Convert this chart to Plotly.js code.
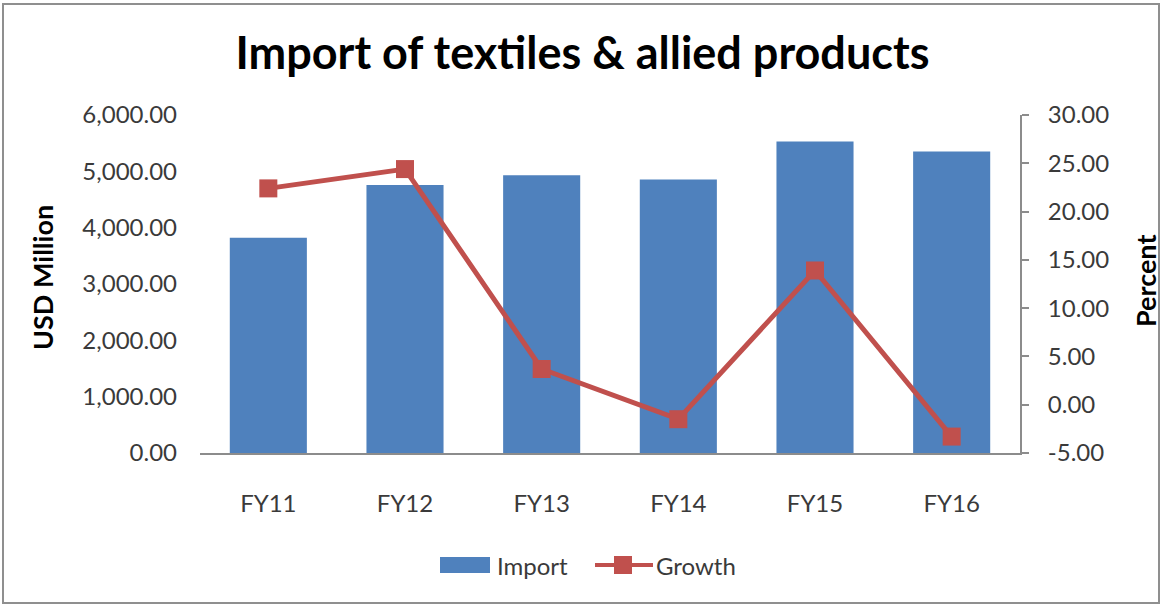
<!DOCTYPE html>
<html>
<head>
<meta charset="utf-8">
<script src="https://cdn.plot.ly/plotly-3.0.1.min.js"></script>
<style>
  html, body { margin: 0; padding: 0; background: #ffffff; }
  #chart { position: absolute; left: 0; top: 0; width: 1165px; height: 607px; }
  #frame {
    position: absolute; left: 2px; top: 3px; width: 1158px; height: 601px;
    box-sizing: border-box; border: 2px solid #8f8f8f; pointer-events: none;
  }
</style>
</head>
<body>
<div id="chart"></div>
<div id="frame"></div>
<script>
// Fiscal years and values
const years = ['FY11', 'FY12', 'FY13', 'FY14', 'FY15', 'FY16'];
const importValues = [3822, 4756, 4930, 4855, 5530, 5350];   // USD million
const growthValues = [22.4, 24.4, 3.7, -1.5, 13.9, -3.3];     // percent

// Axis tick values and labels
const importTicks = [0, 1000, 2000, 3000, 4000, 5000, 6000];
const importTickText = ['0.00', '1,000.00', '2,000.00', '3,000.00', '4,000.00', '5,000.00', '6,000.00'];
const growthTicks = [-5, 0, 5, 10, 15, 20, 25, 30];
const growthTickText = ['-5.00', '0.00', '5.00', '10.00', '15.00', '20.00', '25.00', '30.00'];

const BLUE = '#4f81bd';
const RED = '#c0504d';
const FONT = 'Lato, "Open Sans", sans-serif';
const TICK_COLOR = '#3a3a3a';

// plot area in pixels
const W = 1165, H = 607;
const M = { l: 200, r: 145, t: 115, b: 154 };
const plotW = W - M.l - M.r, plotH = H - M.t - M.b;
const px = x => (x - M.l) / plotW;
const py = y => (H - M.b - y) / plotH;

const traces = [
  {
    type: 'bar', name: 'Import', x: years, y: importValues,
    marker: { color: BLUE }, yaxis: 'y', hoverinfo: 'x+y'
  },
  {
    type: 'scatter', mode: 'lines+markers', name: 'Growth', x: years, y: growthValues,
    yaxis: 'y2',
    line: { color: RED, width: 5 },
    marker: { color: RED, symbol: 'square', size: 18 }
  }
];

// legend keys drawn beneath the plot
const legendY = 565;
const shapes = [
  { type: 'rect', xref: 'paper', yref: 'paper',
    x0: px(440), x1: px(490), y0: py(legendY + 8), y1: py(legendY - 8),
    fillcolor: BLUE, line: { width: 0 } },
  { type: 'line', xref: 'paper', yref: 'paper',
    x0: px(595), x1: px(653), y0: py(legendY), y1: py(legendY),
    line: { color: RED, width: 4 } },
  { type: 'rect', xref: 'paper', yref: 'paper',
    x0: px(614), x1: px(632), y0: py(legendY + 9), y1: py(legendY - 9),
    fillcolor: RED, line: { width: 0 } }
];

const annotations = [
  { text: 'Import', xref: 'paper', yref: 'paper', x: px(495), y: py(legendY),
    xanchor: 'left', yanchor: 'middle', showarrow: false,
    font: { family: FONT, size: 24, color: TICK_COLOR } },
  { text: 'Growth', xref: 'paper', yref: 'paper', x: px(654), y: py(legendY),
    xanchor: 'left', yanchor: 'middle', showarrow: false,
    font: { family: FONT, size: 24, color: TICK_COLOR } },
  { text: '<b>USD Million</b>', xref: 'paper', yref: 'paper', x: px(42), y: py(278),
    xanchor: 'center', yanchor: 'middle', textangle: -90, showarrow: false,
    font: { family: FONT, size: 27, color: '#000000' } },
  { text: '<b>Percent</b>', xref: 'paper', yref: 'paper', x: px(1145), y: py(281),
    xanchor: 'center', yanchor: 'middle', textangle: -90, showarrow: false,
    font: { family: FONT, size: 27, color: '#000000' } }
];

const layout = {
  width: W, height: H,
  margin: M,
  paper_bgcolor: '#ffffff', plot_bgcolor: '#ffffff',
  showlegend: false,
  bargap: 0.436,
  title: {
    text: '<b>Import of textiles &amp; allied products</b>',
    x: 0.5, xref: 'container', xanchor: 'center',
    y: 1 - 53 / H, yref: 'container', yanchor: 'middle',
    font: { family: FONT, size: 45, color: '#000000' }
  },
  xaxis: {
    type: 'category',
    showline: true, linecolor: '#8c8c8c', linewidth: 2,
    showgrid: false, zeroline: false, ticks: '',
    ticklabelstandoff: 28,
    tickfont: { family: FONT, size: 24, color: TICK_COLOR }
  },
  yaxis: {
    range: [0, 6000], tickvals: importTicks, ticktext: importTickText,
    showline: false, showgrid: false, zeroline: false, ticks: '',
    ticklabelstandoff: 22,
    tickfont: { family: FONT, size: 24, color: TICK_COLOR }
  },
  yaxis2: {
    overlaying: 'y', side: 'right',
    range: [-5, 30], tickvals: growthTicks, ticktext: growthTickText,
    showline: true, linecolor: '#8c8c8c', linewidth: 2,
    ticks: 'outside', ticklen: 7, tickcolor: '#8c8c8c', tickwidth: 2,
    showgrid: false, zeroline: false,
    ticklabelstandoff: 14,
    tickfont: { family: FONT, size: 24, color: TICK_COLOR }
  },
  shapes: shapes,
  annotations: annotations
};

Plotly.newPlot('chart', traces, layout, { displayModeBar: false, staticPlot: true });
</script>
</body>
</html>
